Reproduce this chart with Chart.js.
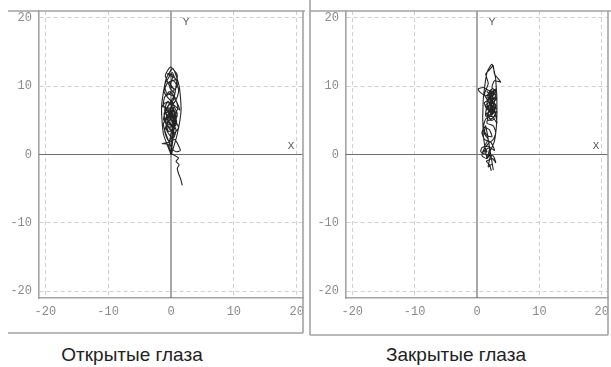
<!DOCTYPE html>
<html lang="ru">
<head>
<meta charset="utf-8">
<title>Стабилограммы</title>
<script src="https://cdn.jsdelivr.net/npm/chart.js@4/dist/chart.umd.min.js"></script>
<style>
    html, body { margin: 0; padding: 0; background: #fff; }
    .panneau { position: absolute; top: 0; height: 340px; }
    #pan-gauche { left: 0; width: 305px; }
    #pan-droite { left: 305px; width: 306px; }
    .legende {
        position: absolute; top: 344px; width: 300px; text-align: center;
        font: 19px "Liberation Sans", Arial, sans-serif; color: #222;
    }
</style>
</head>
<body>
<div class="panneau" id="pan-gauche"><canvas id="graphique-ouverts"></canvas></div>
<div class="panneau" id="pan-droite"><canvas id="graphique-fermes"></canvas></div>
<div class="legende" style="left: -18px;">Открытые глаза</div>
<div class="legende" style="left: 306px;">Закрытые глаза</div>

<script>
/* ─── Data ────────────────────────────────────────────────────── */
const TICKS = [-20, -10, 0, 10, 20];

// eyes open: centre of pressure trace (mm)
const ouvertsX = [
    1.8, 1.5, 1.2, 1.0, 1.3, 0.8, 1.2, 0.3, 0.0, -0.5, -1.4, -0.3, 0.6, 1.5, 0.8, 0.2,
    -0.8, -1.2, -0.5, 0.5, 1.0, 0.2, -0.9, -0.3, 0.6, 1.2, 0.4, -0.6, -1.4, -0.8, 0.5, 1.4,
    1.0, 0.3, -0.7, -1.0, -0.4, 0.2, 0.6, 1.1, 0.7, -0.2, -0.9, -0.1, 0.5, 1.0, 0.8, 0.4,
    -0.5, -1.1, -0.6, 0.1, 0.9, 0.5, -0.3, -0.8, -0.2, 0.4, 0.8, 0.2, -0.4, 0.3, 1.1, 0.6,
    -0.2, -1.0, -1.2, -0.3, 0.4, 0.0, -0.6, 0.2, 0.6, -0.1, -0.7, 0.0, 0.5, -0.4, -1.0, -0.5,
    0.1, 0.9, 1.2, 0.4, -0.6, -1.1, -0.4, 0.3, -0.2, -0.8, -0.1, 0.4, 0.0, -0.3, 0.0, 0.6,
    -0.5, -1.0, 0.2, 0.9, 0.1, -0.9, -0.3, 0.7, 0.3, -0.6, 0.5, -0.2, -1.1, -0.4, 0.6, 0.1,
    -0.8, 0.4, 1.0, 0.0, -0.7, 0.5, -0.3, 0.8, -0.6, 0.3, -0.2, 0.6, -0.4, -1.2, -0.2, 0.8,
    0.0, -0.6, 0.3, 0.0, 1.0, 1.6, 1.3, 0.3, -0.8, -1.5, -1.2, 0.0
];
const ouvertsY = [
    -4.5, -3.5, -2.8, -2.0, -1.5, -1.0, -0.5, 0.0, 0.2, 1.5, 1.6, 1.8, 2.2, 0.6, 0.4, 0.8,
    3.0, 4.5, 5.5, 4.8, 5.8, 6.5, 5.2, 3.8, 3.2, 4.0, 5.2, 6.8, 7.0, 7.6, 7.2, 6.5,
    7.5, 8.6, 9.0, 10.2, 11.2, 12.0, 11.2, 10.5, 9.6, 10.0, 11.6, 12.8, 12.3, 11.6, 10.0, 8.0,
    7.0, 5.6, 4.2, 3.6, 4.6, 6.0, 5.0, 4.0, 2.8, 2.4, 3.6, 4.8, 6.0, 5.6, 6.8, 8.4,
    9.2, 8.4, 7.2, 6.2, 6.6, 5.2, 4.6, 4.2, 5.0, 5.8, 5.4, 4.4, 3.0, 2.0, 3.4, 5.0,
    7.0, 8.2, 9.6, 10.8, 10.4, 9.2, 8.2, 7.6, 6.6, 6.0, 5.4, 4.0, 3.0, 1.2, 0.0, 6.2,
    7.8, 6.4, 5.0, 5.4, 6.8, 6.6, 4.6, 4.2, 5.8, 5.2, 7.0, 7.4, 6.0, 3.4, 3.8, 5.6,
    5.0, 6.4, 6.0, 7.8, 8.6, 9.4, 10.6, 11.0, 11.8, 11.6, 9.8, 8.8, 7.2, 5.2, 4.0, 4.8,
    6.2, 6.4, 4.6, 0.0, 3.0, 6.5, 10.0, 12.6, 11.0, 7.0, 3.0, 0.0
];

// eyes closed
const fermesX = [
    2.3, 2.0, 1.5, 2.5, 3.0, 2.6, 1.4, 0.6, 0.8, 1.8, 2.8, 2.2, 1.2, 0.8, 1.2, 2.0,
    2.4, 1.6, 1.0, 1.4, 2.4, 3.2, 2.8, 1.6, 1.2, 2.2, 3.0, 2.4, 1.4, 1.6, 2.6, 3.2,
    2.4, 1.4, 0.4, 0.2, 1.0, 1.8, 2.8, 3.0, 2.0, 1.4, 2.2, 3.0, 2.6, 1.8, 1.2, 1.8,
    1.4, 2.0, 2.6, 2.8, 3.8, 2.8, 2.4, 3.0, 2.2, 1.6, 2.4, 3.2, 2.6, 1.8, 1.6, 2.4,
    2.0, 1.4, 2.2, 2.8, 2.2, 1.6, 2.6, 3.0, 2.2, 1.8, 2.4, 2.8, 1.8, 2.6, 2.0, 2.8,
    1.6, 2.4, 3.0, 2.2, 1.8, 2.6, 2.0, 2.8, 1.8, 2.2, 3.0, 1.6, 2.4, 2.0, 2.6, 1.8,
    2.2, 2.8, 2.0, 1.6, 2.6, 3.0, 2.6, 1.8, 1.0, 0.8, 1.6, 2.2, 2.0, 1.8, 2.4, 2.6,
    1.4, 1.2, 1.8, 1.2, 1.6, 1.0, 2.0, 1.6, 1.0, 1.0, 1.6, 2.4, 3.0, 3.2, 2.8, 1.6
];
const fermesY = [
    -2.4, -1.5, -1.0, -0.6, -1.2, -0.2, 0.0, 0.4, 1.0, 1.2, 0.6, 1.8, 2.2, 3.2, 4.0, 3.6,
    2.6, 2.8, 3.8, 5.2, 5.6, 4.6, 6.2, 6.6, 7.6, 8.0, 7.2, 6.0, 5.6, 7.0, 7.6, 8.6,
    9.2, 8.6, 9.2, 9.6, 9.8, 9.4, 9.0, 8.0, 7.2, 6.2, 5.2, 5.8, 7.0, 7.8, 8.8, 10.4,
    11.8, 12.4, 13.0, 11.8, 10.6, 10.8, 9.8, 9.2, 8.4, 8.0, 7.2, 6.6, 5.4, 5.0, 6.0, 6.6,
    7.6, 7.2, 6.4, 7.8, 8.8, 9.2, 8.6, 9.6, 9.0, 8.2, 8.0, 8.4, 6.8, 6.2, 8.6, 9.4,
    7.6, 5.8, 7.0, 7.8, 9.0, 9.0, 6.2, 6.8, 5.6, 8.2, 8.2, 8.4, 9.6, 9.2, 7.4, 6.0,
    5.0, 5.2, 5.8, 4.6, 4.2, 3.2, 2.2, 1.6, 0.6, -0.2, -0.6, 0.2, -0.8, -1.8, -1.4, -2.2,
    4.2, 3.0, 2.2, 1.2, 0.4, 0.4, 1.0, -0.5, 3.0, 8.0, 12.0, 13.2, 11.0, 6.0, 2.0, -0.5
];

/* ─── Drawing helpers ─────────────────────────────────────────── */
const GRIS_CADRE  = '#a3a3a3';
const GRIS_AXE    = '#6e6e6e';
const GRIS_GRILLE = '#cfcfcf';
const POLICE_MONO = '"Liberation Mono", "DejaVu Sans Mono", monospace';

function points(xs, ys) {
    return xs.map((x, i) => ({ x, y: ys[i] }));
}

// axes through zero, X/Y letters and the window frame around each panel
function pluginCadre(cadre) {
    return {
        id: 'cadre',
        beforeDatasetsDraw(chart) {
            const { ctx, chartArea: a, scales } = chart;
            const x0 = scales.x.getPixelForValue(0);
            const y0 = scales.y.getPixelForValue(0);
            ctx.save();
            ctx.strokeStyle = GRIS_AXE;
            ctx.lineWidth = 1.2;
            ctx.beginPath();
            ctx.moveTo(x0, a.top); ctx.lineTo(x0, a.bottom);
            ctx.moveTo(a.left, y0); ctx.lineTo(a.right, y0);
            ctx.stroke();
            ctx.restore();
        },
        afterDraw(chart) {
            const { ctx, chartArea: a, scales } = chart;
            const x0 = scales.x.getPixelForValue(0);
            const y0 = scales.y.getPixelForValue(0);
            ctx.save();
            ctx.strokeStyle = GRIS_CADRE;
            ctx.lineWidth = 1.6;
            ctx.beginPath();
            ctx.moveTo(cadre.gauche, a.top); ctx.lineTo(chart.width, a.top);
            ctx.moveTo(a.right, a.top); ctx.lineTo(a.right, cadre.bas);
            ctx.moveTo(cadre.gauche, cadre.bas); ctx.lineTo(a.right, cadre.bas);
            if (cadre.bordGauche) {
                ctx.moveTo(cadre.gauche, 0); ctx.lineTo(cadre.gauche, cadre.bas);
            }
            ctx.stroke();

            ctx.fillStyle = '#555';
            ctx.font = '11px ' + POLICE_MONO;
            ctx.textAlign = 'center';
            ctx.textBaseline = 'middle';
            ctx.fillText('Y', x0 + 15, a.top + 11);
            ctx.fillText('X', a.right - 12, y0 - 8);
            ctx.restore();
        },
    };
}

function creerPanneau(id, xs, ys, largeurY, margeDroite, cadre) {
    const axe = (fit) => ({
        type: 'linear',
        min: -21,
        max: 21,
        afterBuildTicks: s => { s.ticks = TICKS.map(v => ({ value: v })); },
        afterFit: s => {
            fit(s);
            s.paddingLeft = s.paddingRight = s.paddingTop = s.paddingBottom = 0;
        },
        grid: {
            color: c => (c.tick && c.tick.value === 0) ? 'rgba(0,0,0,0)' : GRIS_GRILLE,
            lineWidth: 1,
            drawTicks: false,
        },
        border: { display: true, color: GRIS_CADRE, width: 1.6, dash: [4, 3] },
        ticks: {
            color: '#8a8a8a',
            font: { family: POLICE_MONO, size: 12 },
            padding: 7,
            maxRotation: 0,
            autoSkip: false,
        },
    });

    return new Chart(document.getElementById(id), {
        type: 'scatter',
        data: {
            datasets: [{
                data: points(xs, ys),
                showLine: true,
                borderColor: 'rgba(25,25,25,0.95)',
                borderWidth: 1.1,
                pointRadius: 0,
                tension: 0.2,
            }],
        },
        options: {
            responsive: true,
            maintainAspectRatio: false,
            animation: false,
            layout: { padding: { top: 11, right: margeDroite, bottom: 0, left: 0 } },
            plugins: { legend: { display: false }, tooltip: { enabled: false } },
            scales: {
                x: axe(s => { s.height = 42; }),
                y: axe(s => { s.width = largeurY; }),
            },
        },
        plugins: [pluginCadre(cadre)],
    });
}

creerPanneau('graphique-ouverts', ouvertsX, ouvertsY, 39, 2, { gauche: 8, bas: 333, bordGauche: false });
creerPanneau('graphique-fermes', fermesX, fermesY, 41, 3, { gauche: 5, bas: 335, bordGauche: true });
</script>
</body>
</html>
